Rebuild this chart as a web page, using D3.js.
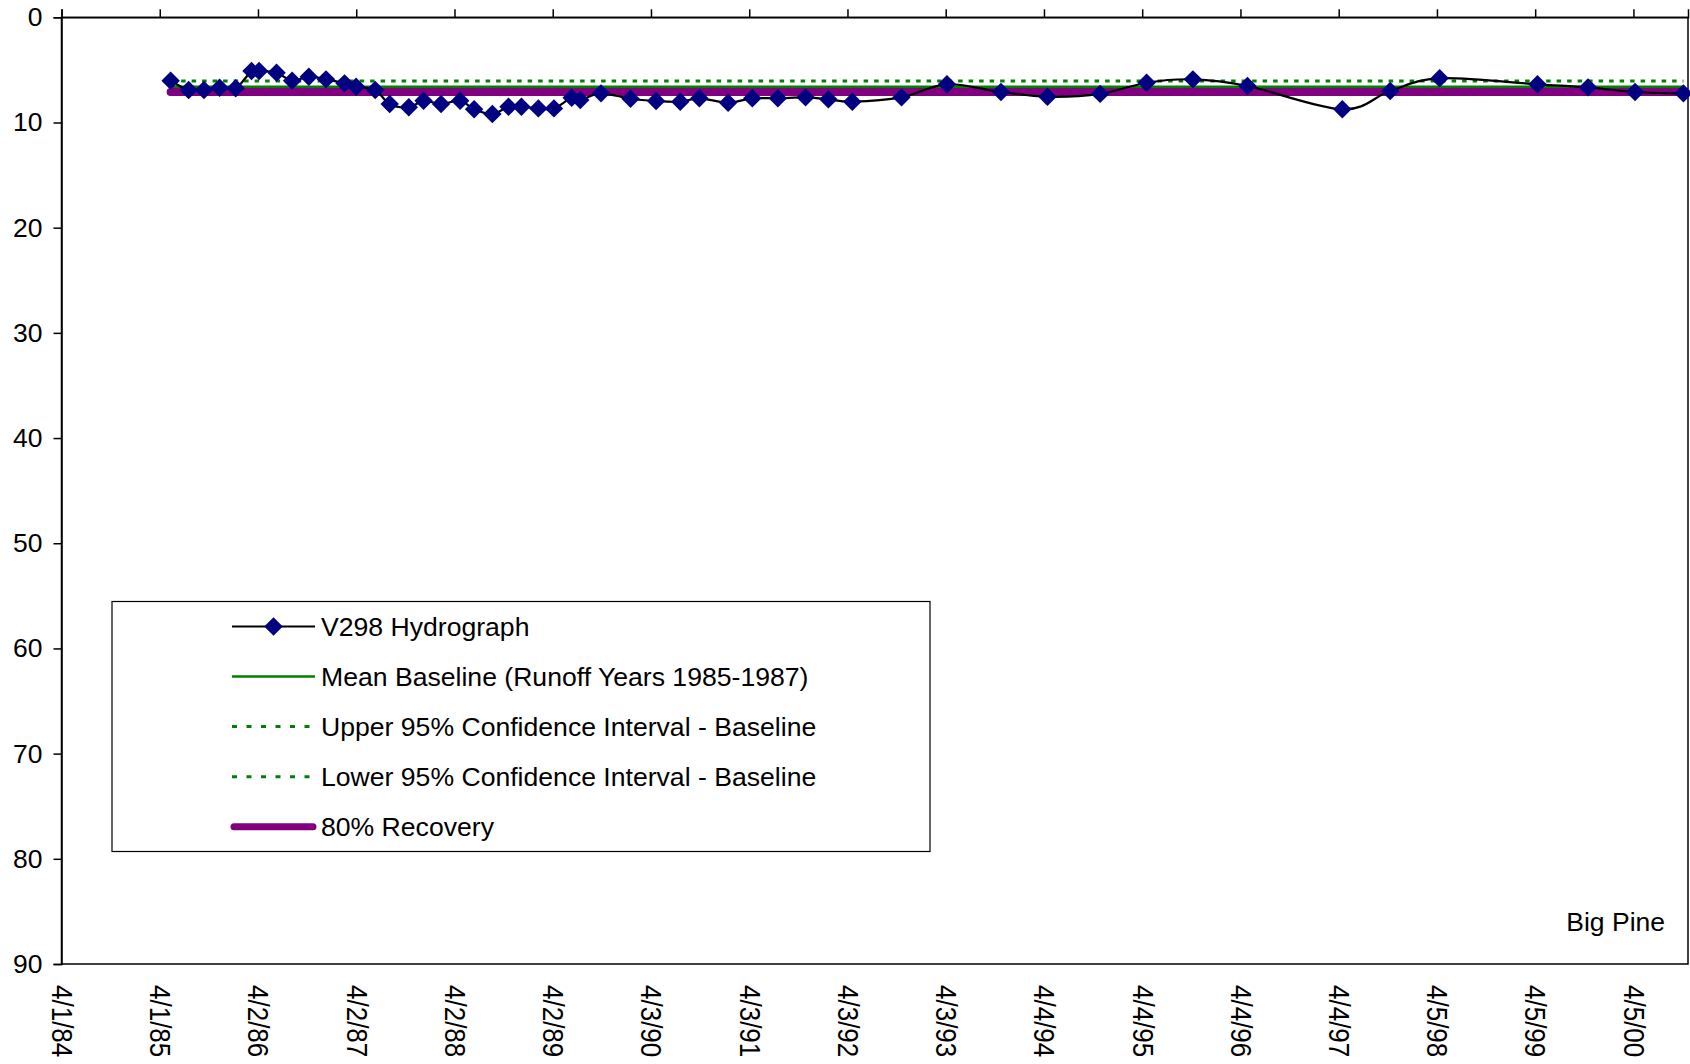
<!DOCTYPE html>
<html>
<head>
<meta charset="utf-8">
<title>V298 Hydrograph - Big Pine</title>
<script src="https://cdn.jsdelivr.net/npm/d3@7"></script>
<style>
  html, body { margin: 0; padding: 0; background: #ffffff; }
  svg { display: block; font-family: "Liberation Sans", Arial, sans-serif; }
</style>
</head>
<body>
<svg id="chart" width="1690" height="1064"></svg>
<script>
// Sampling dates for well V298 and depth to water (ft below ground)
const sampleDates = [
  "1985-05-12", "1985-07-18", "1985-09-13", "1985-11-10", "1986-01-09",
  "1986-03-09", "1986-04-06", "1986-06-10", "1986-08-07", "1986-10-08",
  "1986-12-11", "1987-02-18", "1987-04-02", "1987-06-12", "1987-08-05",
  "1987-10-15", "1987-12-09", "1988-02-12", "1988-04-23", "1988-06-14",
  "1988-08-21", "1988-10-20", "1988-12-07", "1989-02-08", "1989-04-07",
  "1989-06-12", "1989-07-14", "1989-09-29", "1990-01-17", "1990-04-22",
  "1990-07-21", "1990-09-30", "1991-01-15", "1991-04-15", "1991-07-19",
  "1991-10-30", "1992-01-23", "1992-04-21", "1992-10-21", "1993-04-08",
  "1993-10-26", "1994-04-17", "1994-10-30", "1995-04-21", "1995-10-10",
  "1996-04-30", "1997-04-18", "1997-10-13", "1998-04-15", "1999-04-14",
  "1999-10-19", "2000-04-11", "2000-10-08"
];
const depthToWater = [
  6.03, 6.91, 6.91, 6.69, 6.75,
  5.11, 5.11, 5.27, 6.03, 5.65,
  5.90, 6.28, 6.60, 6.91, 8.25,
  8.56, 7.93, 8.25, 7.93, 8.75,
  9.20, 8.50, 8.50, 8.66, 8.66,
  7.65, 7.87, 7.23, 7.74, 7.96,
  8.02, 7.70, 8.12, 7.70, 7.70,
  7.61, 7.80, 8.02, 7.61, 6.37,
  7.10, 7.55, 7.28, 6.22, 5.90,
  6.53, 8.75, 7.01, 5.80, 6.37,
  6.66, 7.10, 7.23
];

// Reference levels
const meanBaseline = 6.60;
const upperCI = 6.05;
const lowerCI = 7.15;
const recovery80 = 7.10;

// Axis labels
const dateTickLabels = [
  "4/1/84", "4/1/85", "4/2/86", "4/2/87", "4/2/88", "4/2/89", "4/3/90", "4/3/91",
  "4/3/92", "4/3/93", "4/4/94", "4/4/95", "4/4/96", "4/4/97", "4/5/98", "4/5/99", "4/5/00"
];
const depthTicks = [0, 10, 20, 30, 40, 50, 60, 70, 80, 90];

const legendItems = [
  { key: "hydro",   label: "V298 Hydrograph" },
  { key: "mean",    label: "Mean Baseline (Runoff Years 1985-1987)" },
  { key: "upper",   label: "Upper 95% Confidence Interval - Baseline" },
  { key: "lower",   label: "Lower 95% Confidence Interval - Baseline" },
  { key: "recover", label: "80% Recovery" }
];

const parse = d3.timeParse("%Y-%m-%d");
const series = sampleDates.map((s, i) => ({ date: parse(s), value: depthToWater[i] }));

const svg = d3.select("#chart");
const plot = { left: 61.5, right: 1688, top: 17.3, bottom: 964 };
const FONT = "'Liberation Sans', Arial, sans-serif";

const axisStart = new Date(1984, 3, 1);
const axisEnd = new Date(2000, 9, 25);
const x = d3.scaleTime().domain([axisStart, axisEnd]).range([plot.left, plot.right]);
const y = d3.scaleLinear().domain([0, 90]).range([plot.top, plot.bottom]);

// Major ticks every 365.5 days from the axis start
const DAY = 864e5;
const tickDates = dateTickLabels.map((_, i) => new Date(axisStart.getTime() + i * 365.5 * DAY));

// Plot area frame
svg.append("rect")
  .attr("x", plot.left).attr("y", plot.top)
  .attr("width", plot.right - plot.left).attr("height", plot.bottom - plot.top)
  .attr("fill", "#ffffff").attr("stroke", "#000000").attr("stroke-width", 1.5);

// Top axis: tick marks only
const topAxis = svg.append("g")
  .attr("transform", `translate(0,${plot.top})`)
  .call(d3.axisTop(x).tickValues(tickDates).tickSize(8).tickFormat(""));
topAxis.select(".domain").attr("stroke", "#000").attr("stroke-width", 1.5);
topAxis.selectAll(".tick line").attr("stroke", "#000").attr("stroke-width", 1.5);

// Bottom labels, rotated to read downward
const bottomAxis = svg.append("g")
  .attr("transform", `translate(0,${plot.bottom})`)
  .call(d3.axisBottom(x).tickValues(tickDates).tickSize(0)
    .tickFormat((d, i) => dateTickLabels[i]));
bottomAxis.select(".domain").remove();
bottomAxis.selectAll(".tick text")
  .attr("font-size", 26)
  .attr("font-family", FONT)
  .attr("fill", "#000")
  .attr("text-anchor", "start")
  .attr("transform", "translate(0,21) rotate(90) scale(1,1.12)")
  .attr("x", 0).attr("y", 0).attr("dy", "0.35em");

// Left depth axis
const leftAxis = svg.append("g")
  .attr("transform", `translate(${plot.left},0)`)
  .call(d3.axisLeft(y).tickValues(depthTicks).tickSize(8).tickPadding(11));
leftAxis.select(".domain").attr("stroke", "#000").attr("stroke-width", 1.5);
leftAxis.selectAll(".tick line").attr("stroke", "#000").attr("stroke-width", 1.5);
leftAxis.selectAll(".tick text")
  .attr("font-size", 26.5)
  .attr("font-family", FONT)
  .attr("fill", "#000");

// Horizontal reference levels spanning the record
const firstDate = series[0].date;
const lastDate = series[series.length - 1].date;
const marks = svg.append("g");

function level(value, color, width, dash, cap) {
  marks.append("line")
    .attr("x1", x(firstDate)).attr("x2", x(lastDate))
    .attr("y1", y(value)).attr("y2", y(value))
    .attr("stroke", color).attr("stroke-width", width)
    .attr("stroke-dasharray", dash || null)
    .attr("stroke-linecap", cap || "butt");
}
level(meanBaseline, "#008000", 2.5);
level(upperCI, "#008000", 3, "4.5,6");
level(lowerCI, "#008000", 3, "4.5,6");
level(recovery80, "#800080", 8, null, "round");

// Hydrograph: smoothed line with diamond markers
const line = d3.line()
  .x(d => x(d.date))
  .y(d => y(d.value))
  .curve(d3.curveCardinal.tension(0));
marks.append("path")
  .datum(series)
  .attr("d", line)
  .attr("fill", "none")
  .attr("stroke", "#000000")
  .attr("stroke-width", 2.2);

const diamond = d3.symbol(d3.symbolSquare, 170);
marks.selectAll("path.marker")
  .data(series)
  .join("path")
  .attr("class", "marker")
  .attr("d", diamond)
  .attr("transform", d => `translate(${x(d.date)},${y(d.value)}) rotate(45)`)
  .attr("fill", "#000080");

// Legend
const legend = svg.append("g");
legend.append("rect")
  .attr("x", 112).attr("y", 601.5).attr("width", 818).attr("height", 250)
  .attr("fill", "#ffffff").attr("stroke", "#000000").attr("stroke-width", 1.2);

const rowY = d3.scalePoint().domain(legendItems.map(d => d.key)).range([626.5, 826.7]);
const sx1 = 232, sx2 = 315;

legendItems.forEach(item => {
  const g = legend.append("g").attr("transform", `translate(0,${rowY(item.key)})`);
  if (item.key === "hydro") {
    g.append("line").attr("x1", sx1).attr("x2", sx2).attr("stroke", "#000").attr("stroke-width", 2.2);
    g.append("path").attr("d", diamond).attr("transform", `translate(${(sx1 + sx2) / 2},0) rotate(45)`).attr("fill", "#000080");
  } else if (item.key === "mean") {
    g.append("line").attr("x1", sx1).attr("x2", sx2).attr("stroke", "#008000").attr("stroke-width", 2.5);
  } else if (item.key === "upper" || item.key === "lower") {
    g.append("line").attr("x1", sx1).attr("x2", sx2).attr("stroke", "#008000").attr("stroke-width", 3)
      .attr("stroke-dasharray", "5,9.5");
  } else {
    g.append("line").attr("x1", sx1 + 2).attr("x2", sx2 - 2).attr("stroke", "#800080").attr("stroke-width", 7)
      .attr("stroke-linecap", "round");
  }
  g.append("text")
    .attr("x", 321).attr("dy", "0.35em")
    .attr("font-size", 26.6).attr("fill", "#000")
    .text(item.label);
});

// Site name
svg.append("text")
  .attr("x", 1665).attr("y", 930.5)
  .attr("text-anchor", "end")
  .attr("font-size", 26.5).attr("fill", "#000")
  .text("Big Pine");
</script>
</body>
</html>
